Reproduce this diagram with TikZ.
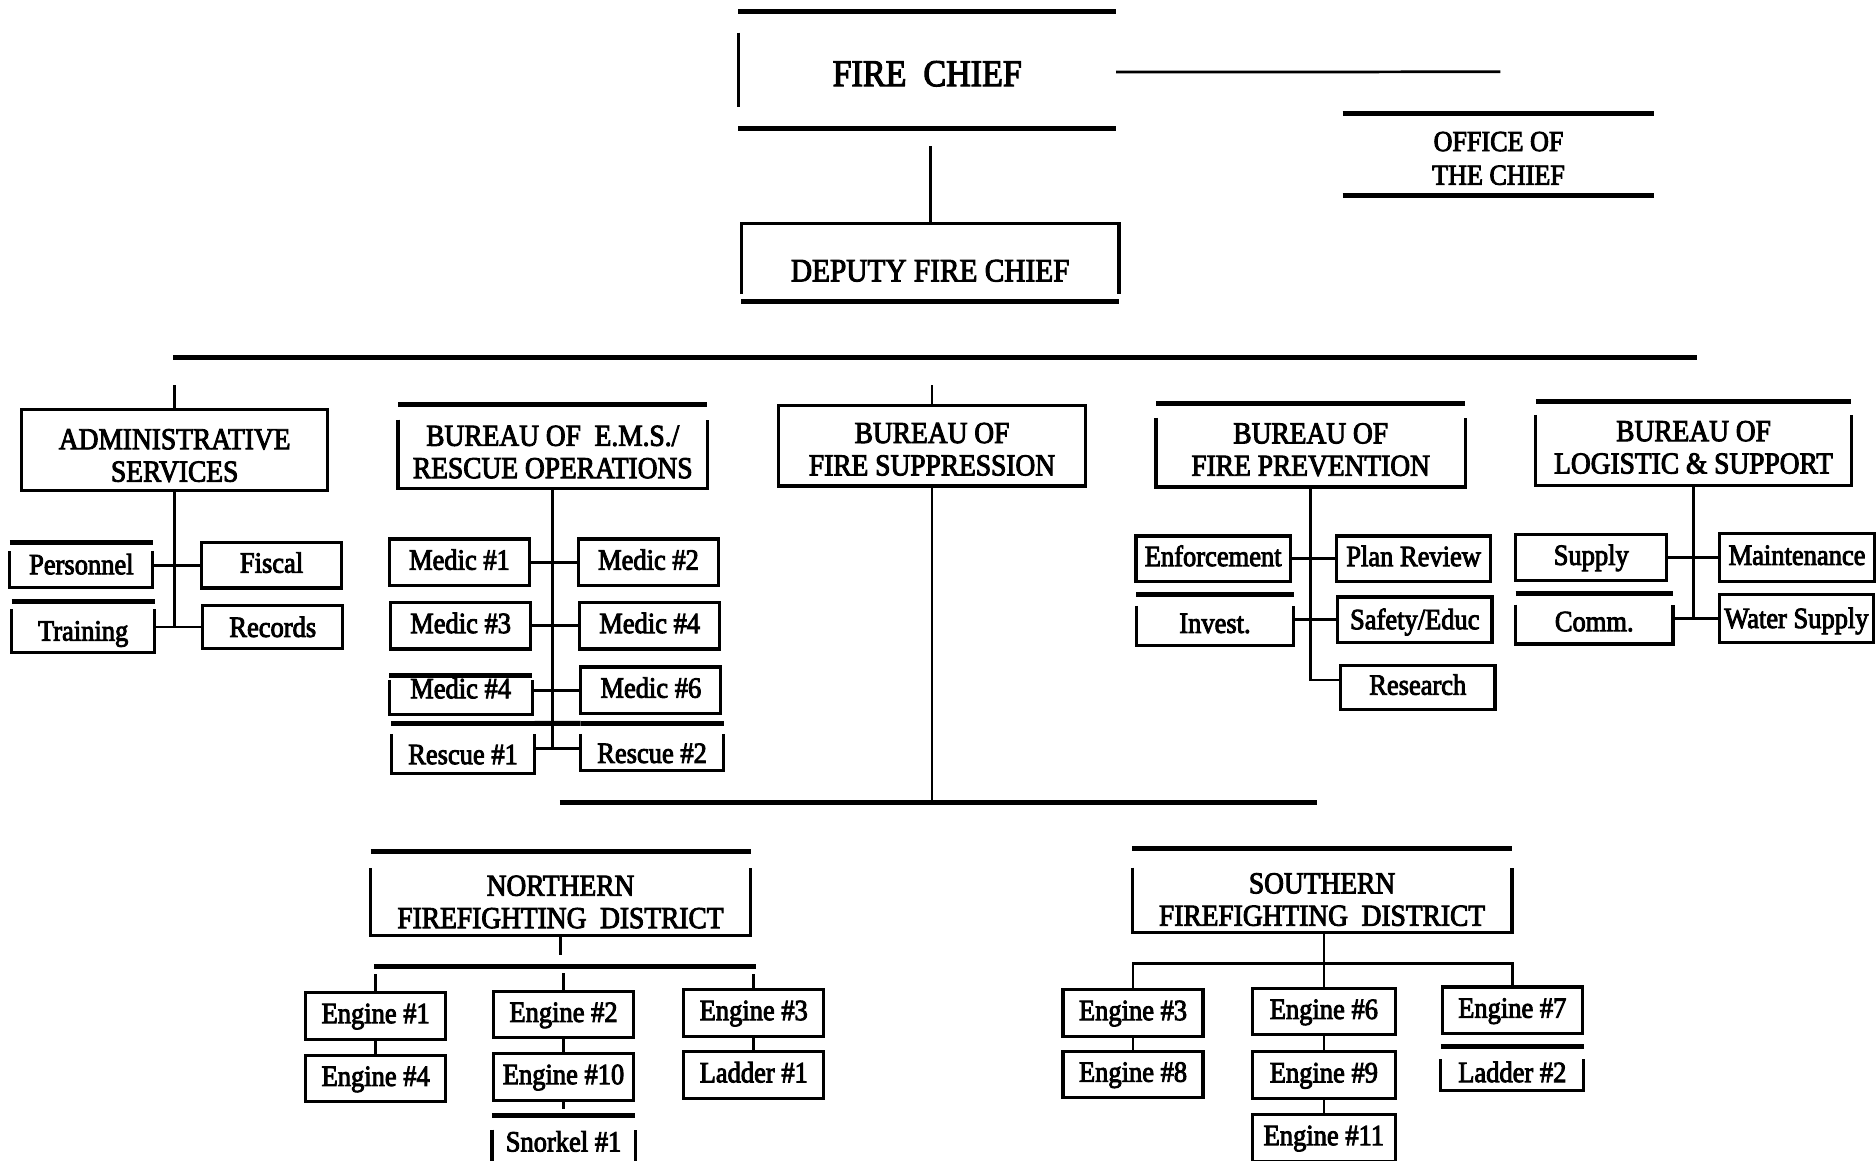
\documentclass[tikz,border=0pt]{standalone}
\usepackage{fontspec}
\usepackage{tikz}
\newfontfamily\scanfont{Liberation Serif}[FakeBold=3,FakeStretch=0.9]
\newcommand{\chieffont}{\scanfont\fontsize{18}{20}\selectfont}
\newcommand{\deputyfont}{\scanfont\fontsize{15.5}{18}\selectfont}
\newcommand{\bureaufont}{\scanfont\fontsize{14.5}{15.4}\selectfont}
\newcommand{\unitfont}{\scanfont\fontsize{14}{16}\selectfont}
\newcommand{\officefont}{\scanfont\fontsize{13.8}{16}\selectfont}
\newcommand{\lift}[1]{\rule{0pt}{#1}}
% open box: heavy rule on top, sides start a little lower
\newcommand{\openframe}[2]{%
  \draw[bar] (#1.north west) -- (#1.north east);
  \draw[frame] ([yshift=-#2]#1.north west) -- (#1.south west) -- (#1.south east) -- ([yshift=-#2]#1.north east);
}

\begin{document}
\begin{tikzpicture}[x=0.02cm,y=-0.02cm,
  frame/.style={line width=1.5pt},
  bar/.style={line width=2.4pt},
  link/.style={line width=1.3pt},
  unit/.style={draw,frame,inner sep=0pt,font=\unitfont,text height=10pt,text depth=3pt,minimum width=2.34cm,minimum height=0.78cm},
  wideunit/.style={unit,minimum width=2.58cm,minimum height=0.76cm},
  openunit/.style={unit,draw=none},
  openwide/.style={wideunit,draw=none,minimum height=0.8cm},
  bureau/.style={draw,frame,inner sep=0pt,align=center,font=\bureaufont,minimum width=5.12cm,minimum height=1.35cm},
  openbureau/.style={bureau,draw=none},
  district/.style={openbureau,minimum width=6.3cm}]
          \useasboundingbox[fill=white] (0,0) rectangle (1568,970);

          % chief and office
          \node[font=\chieffont,minimum width=6.3cm,minimum height=1.94cm] (chief) at (775,58.5) {\lift{15.5pt}FIRE\ \ CHIEF};
          \draw[bar] (chief.north west) -- (chief.north east);
          \draw[bar] (chief.south west) -- (chief.south east);
          \draw[frame] ([yshift=-10pt]chief.north west) -- ([yshift=10pt]chief.south west);
          \node[font=\officefont,align=center,minimum width=5.2cm,minimum height=1.36cm] (office) at (1252.5,129) {\lift{13pt}OFFICE OF\\THE CHIEF};
          \draw[bar] (office.north west) -- (office.north east);
          \draw[bar] (office.south west) -- (office.south east);
          \coordinate (officelink) at (1254,60);
          \draw[link] ([yshift=-1pt]chief.east) -- (officelink);

          \node[font=\deputyfont,minimum width=6.3cm,minimum height=1.3cm] (deputy) at (777.5,219.5) {\lift{18pt}DEPUTY\ FIRE\ CHIEF};
          \draw[frame] ([yshift=4pt]deputy.south west) -- (deputy.north west) -- (deputy.north east) -- ([yshift=4pt]deputy.south east);
          \draw[bar] (deputy.south west) -- (deputy.south east);
          \draw[link,shorten >=8.5pt] (deputy.north) -- (deputy.north |- chief.south);

          \coordinate (topL) at (145,299);
          \coordinate (topR) at (1418,299);
          \draw[bar] (topL) -- (topR);

          % bureaus
          \node[bureau] (admin) at (146,376) {\lift{15pt}ADMINISTRATIVE\\SERVICES};
          \node[openbureau] (ems) at (462,373.5) {\lift{14.5pt}BUREAU OF\ \ E.M.S./\\RESCUE OPERATIONS};
          \openframe{ems}{7pt}
          \node[bureau] (supp) at (779,372.5) {\lift{13pt}BUREAU OF\\FIRE SUPPRESSION};
          \node[openbureau] (prev) at (1095.5,372) {\lift{14pt}BUREAU OF\\FIRE PREVENTION};
          \openframe{prev}{7pt}
          \node[openbureau,minimum width=5.22cm] (logi) at (1415.5,370.5) {\lift{13.5pt}BUREAU OF\\LOGISTIC \& SUPPORT};
          \openframe{logi}{6.5pt}
          \draw[link,shorten >=13pt] (admin.north) -- (admin.north |- topL);
          \draw[link,shorten >=13pt] (supp.north) -- (supp.north |- topL);

          % administrative services
          \node[openunit,minimum height=0.7cm,text height=11.5pt] (personnel) at (68,472.5) {Personnel};
          \openframe{personnel}{4pt}
          \node[openunit,minimum height=0.8cm,text height=16pt] (training) at (69.5,524) {Training};
          \openframe{training}{3.5pt}
          \node[unit,minimum height=0.76cm] (fiscal) at (227,472.5) {Fiscal};
          \node[unit,minimum height=0.72cm,text height=12.5pt] (records) at (228,524) {Records};
          \draw[link] (admin.south) -- (admin.south |- records.west);
          \draw[link] (personnel.east) -- (fiscal.west);
          \draw[link] (training.east) -- (records.west);

          % e.m.s. / rescue
          \node[unit] (medicA) at (384,470) {Medic \#1};
          \node[unit] (medicB) at (542,470) {Medic \#2};
          \node[unit] (medicC) at (385,523) {Medic \#3};
          \node[unit] (medicD) at (543,523) {Medic \#4};
          \node[openunit,minimum height=0.6cm,text height=6pt] (medicE) at (385,581) {Medic \#4};
          \openframe{medicE}{2pt}
          \node[unit] (medicF) at (544,577) {Medic \#6};
          \node[openunit,text height=18pt] (rescueA) at (387,625.5) {Rescue \#1};
          \openframe{rescueA}{5pt}
          \node[openunit,minimum height=0.74cm,text height=18pt] (rescueB) at (545,624.5) {Rescue \#2};
          \openframe{rescueB}{5pt}
          \draw[bar] (rescueA.north east) -- (rescueB.north west);
          \draw[link] (ems.south) -- (ems.south |- rescueA.east);
          \draw[link] (medicA.east) -- (medicB.west);
          \draw[link] (medicC.east) -- (medicD.west);
          \draw[link] (medicF.west -| medicE.east) -- (medicF.west);
          \draw[link] (rescueA.east) -- (rescueB.west |- rescueA.east);

          % fire prevention
          \node[wideunit] (enforce) at (1014,467) {Enforcement};
          \node[wideunit] (planrev) at (1181.5,467) {Plan Review};
          \node[openwide,text height=15.5pt] (invest) at (1015.5,518) {Invest.};
          \openframe{invest}{5.5pt}
          \node[wideunit,text height=12pt] (safety) at (1182.5,518) {Safety/Educ};
          \node[wideunit,minimum height=0.74cm] (research) at (1185,574.5) {Research};
          \draw[link] (prev.south) |- ([yshift=3.5pt]research.west);
          \draw[link] (enforce.east) -- (planrev.west);
          \draw[link] (invest.east) -- (safety.west);

          % logistic and support
          \node[wideunit,minimum width=2.52cm] (supply) at (1330,466) {Supply};
          \node[wideunit,minimum height=0.8cm] (maint) at (1502,466) {Maintenance};
          \node[openwide,text height=15pt] (comm) at (1332.5,517) {Comm.};
          \openframe{comm}{5.5pt}
          \node[wideunit,minimum height=0.8cm,text height=12pt] (water) at (1501.5,517) {Water Supply};
          \draw[link] (logi.south) -- (logi.south |- water.west);
          \draw[link] (supply.east) -- (maint.west);
          \draw[link] (comm.east) -- (water.west);

          % fire suppression
          \coordinate (lowL) at (468,671);
          \coordinate (lowR) at (1101,671);
          \draw[bar] (lowL) -- (lowR);
          \draw[link] (supp.south) -- (supp.south |- lowL);

          % northern district
          \node[district] (northdist) at (468.5,746.5) {\lift{18pt}NORTHERN\\FIREFIGHTING\ \ DISTRICT};
          \openframe{northdist}{8pt}
          \draw[link] (northdist.south) -- ++(0,17);
          \coordinate (nbarL) at (313,808);
          \coordinate (nbarR) at (632,808);
          \draw[bar] (nbarL) -- (nbarR);
          \node[unit] (engA) at (314,849) {Engine \#1};
          \node[unit] (engD) at (314,901.5) {Engine \#4};
          \node[unit] (engB) at (471,848) {Engine \#2};
          \node[unit] (engJ) at (471,900) {Engine \#10};
          \node[openunit,minimum height=0.82cm,text height=12pt] (snorkel) at (471,954.5) {Snorkel \#1};
          \openframe{snorkel}{6.5pt}
          \node[unit] (engC) at (630,846.5) {Engine \#3};
          \node[unit] (ladderA) at (630,898.5) {Ladder \#1};
          \draw[link] (engA.north) -- ++(0,-14);
          \draw[link] (engB.north) -- ++(0,-14);
          \draw[link] (engC.north) -- ++(0,-12);
          \draw[link] (engA.south) -- (engD.north);
          \draw[link] (engB.south) -- (engJ.north);
          \draw[link] (engJ.south) -- ++(0,6);
          \draw[link] (engC.south) -- (ladderA.north);

          % southern district
          \node[district] (southdist) at (1105,744.5) {\lift{18pt}SOUTHERN\\FIREFIGHTING\ \ DISTRICT};
          \openframe{southdist}{9pt}
          \node[unit] (engCs) at (947,846.5) {Engine \#3};
          \node[unit] (engH) at (947,898) {Engine \#8};
          \node[unit,minimum width=2.4cm] (engF) at (1106.5,845.5) {Engine \#6};
          \node[unit,minimum width=2.4cm] (engI) at (1106.5,898.5) {Engine \#9};
          \node[unit,minimum width=2.4cm] (engK) at (1106.5,951) {Engine \#11};
          \node[unit] (engG) at (1264,844.5) {Engine \#7};
          \node[openunit,minimum height=0.68cm,text height=16pt] (ladderB) at (1264,893) {Ladder \#2};
          \openframe{ladderB}{6pt}
          \coordinate (sjoin) at (1106.5,805);
          \draw[link] (engF.north |- southdist.south) -- (engF.north);
          \draw[link] (engCs.north) |- (sjoin) -| (engG.north);
          \draw[link] (engCs.south) -- (engH.north);
          \draw[link] (engF.south) -- (engI.north);
          \draw[link] (engI.south) -- (engK.north);
        \end{tikzpicture}
\end{document}
